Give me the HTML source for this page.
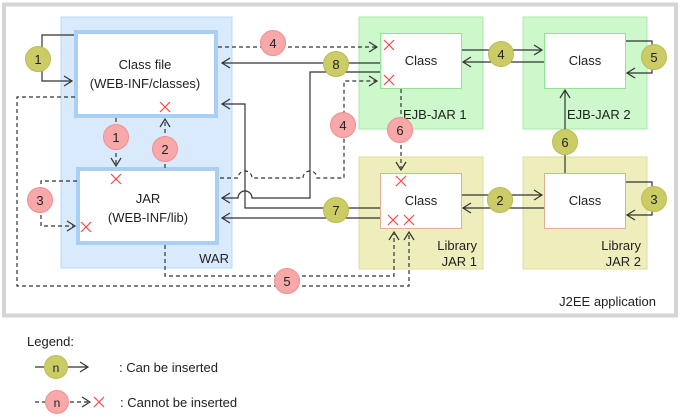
<!DOCTYPE html>
<html><head><meta charset="utf-8"><style>
html,body{margin:0;padding:0;background:#fff;}
svg{display:block;font-family:"Liberation Sans",Arial,sans-serif;}
</style></head><body>
<svg width="680" height="417" viewBox="0 0 680 417" xmlns="http://www.w3.org/2000/svg">
<defs>
<g id="xo"><path d="M-5,-5L5,5M5,-5L-5,5" stroke="#ff4444" stroke-width="1.2" fill="none"/></g>
</defs>
<rect x="4" y="4.5" width="672" height="311" fill="#fff" stroke="#d4d4d4" stroke-width="4"/>
<!-- WAR -->
<rect x="61" y="17" width="171" height="251" fill="#d9eafc" stroke="#b8d8f8" stroke-width="1"/>
<rect x="76" y="32" width="140" height="84" fill="#fff" stroke="#a9cff5" stroke-width="4"/>
<rect x="78" y="169" width="139" height="74" fill="#fff" stroke="#a9cff5" stroke-width="4"/>
<text x="145" y="69" font-size="13" text-anchor="middle" fill="#222">Class file</text>
<text x="145" y="88" font-size="13" text-anchor="middle" fill="#222">(WEB-INF/classes)</text>
<text x="148" y="203" font-size="13" text-anchor="middle" fill="#222">JAR</text>
<text x="148" y="222" font-size="13" text-anchor="middle" fill="#222">(WEB-INF/lib)</text>
<text x="229" y="263" font-size="13" text-anchor="end" fill="#222">WAR</text>
<!-- EJB / Lib regions -->
<rect x="359" y="17" width="124" height="112" fill="#ccf8cc" stroke="#a8eaa8"/>
<rect x="523" y="17" width="124" height="112" fill="#ccf8cc" stroke="#a8eaa8"/>
<rect x="359" y="157" width="124" height="112" fill="#eeeebc" stroke="#dede9c"/>
<rect x="523" y="157" width="124" height="112" fill="#eeeebc" stroke="#dede9c"/>
<rect x="380.5" y="33.5" width="81" height="55" fill="#fff" stroke="#8fe48f"/>
<rect x="544.5" y="33.5" width="81" height="55" fill="#fff" stroke="#8fe48f"/>
<rect x="380.5" y="173.5" width="81" height="55" fill="#fff" stroke="#e0b090"/>
<rect x="544.5" y="173.5" width="81" height="55" fill="#fff" stroke="#e0b090"/>
<g font-size="13" fill="#222" text-anchor="middle">
<text x="421" y="65">Class</text><text x="585" y="65">Class</text>
<text x="421" y="205">Class</text><text x="585" y="205">Class</text>
</g>
<g font-size="13" fill="#222">
<text x="403" y="119">EJB-JAR 1</text><text x="567" y="119">EJB-JAR 2</text>
<text x="477" y="250" text-anchor="end">Library</text><text x="477" y="266" text-anchor="end">JAR 1</text>
<text x="641" y="250" text-anchor="end">Library</text><text x="641" y="266" text-anchor="end">JAR 2</text>
<text x="656" y="306" text-anchor="end">J2EE application</text>
</g>
<!-- solid lines -->
<g fill="none" stroke="#333" stroke-width="1.2">
<path d="M74,35H42V81H72"/><path d="M64,76L72,81L64,86"/>
<path d="M380,63H222"/><path d="M230,58L222,63L230,68"/>
<path d="M380,72H310V198H252a7,7 0 0 0 -14,0H222"/><path d="M230,193L222,198L230,203"/>
<path d="M380,208H245V104H222"/><path d="M230,99L222,104L230,109"/>
<path d="M380,218H222"/><path d="M230,213L222,218L230,223"/>
<path d="M462,50H542"/><path d="M534,45L542,50L534,55"/>
<path d="M544,62H463"/><path d="M471,57L463,62L471,67"/>
<path d="M626,41H652V73H627"/><path d="M635,68L627,73L635,78"/>
<path d="M565,173V90"/><path d="M560,98L565,90L570,98"/>
<path d="M462,195H542"/><path d="M534,190L542,195L534,200"/>
<path d="M544,208H463"/><path d="M471,203L463,208L471,213"/>
<path d="M626,182H652V215H627"/><path d="M635,210L627,215L635,220"/>
</g>
<!-- dashed lines -->
<g fill="none" stroke="#333" stroke-width="1.2" stroke-dasharray="4,3">
<path d="M218,47H377"/>
<path d="M220,178H238a7,7 0 0 1 14,0H303a7,7 0 0 1 14,0H344V81H377"/>
<path d="M401,89V168"/>
<path d="M116,118V165"/>
<path d="M165,168V121"/>
<path d="M77,181H41V226H73"/>
<path d="M165,245V276H394V234"/>
<path d="M75,97H17V286H409V234"/>
</g>
<g fill="none" stroke="#333" stroke-width="1.2">
<path d="M369,42L377,47L369,52"/><path d="M369,76L377,81L369,86"/>
<path d="M396,162L401,170L406,162"/>
<path d="M111,158L116,166L121,158"/>
<path d="M160,127L165,119L170,127"/>
<path d="M67,221L75,226L67,231"/>
<path d="M389,240L394,232L399,240"/><path d="M404,240L409,232L414,240"/>
</g>
<!-- Xs -->
<use href="#xo" x="389" y="45"/><use href="#xo" x="389" y="80"/>
<use href="#xo" x="401" y="181"/><use href="#xo" x="393" y="220"/><use href="#xo" x="409" y="220"/>
<use href="#xo" x="165" y="107"/><use href="#xo" x="116" y="179"/><use href="#xo" x="86" y="227"/>
<!-- circles -->
<g stroke-width="1" font-size="13" text-anchor="middle" fill="#222">
<g fill="#cccc66" stroke="#bcbc55">
<circle cx="38" cy="59" r="12.5"/><circle cx="336" cy="64" r="12.5"/><circle cx="336" cy="210" r="12.5"/>
<circle cx="501" cy="54" r="12.5"/><circle cx="654" cy="57" r="12.5"/><circle cx="565" cy="142" r="12.5"/>
<circle cx="500" cy="200" r="12.5"/><circle cx="654" cy="199" r="12.5"/>
</g>
<g fill="#f8a8a8" stroke="#f09090">
<circle cx="273" cy="43" r="12.5"/><circle cx="116" cy="137" r="12.5"/><circle cx="165" cy="149" r="12.5"/>
<circle cx="40" cy="200" r="12.5"/><circle cx="343" cy="125" r="12.5"/><circle cx="400" cy="130" r="12.5"/>
<circle cx="287" cy="281" r="12.5"/>
</g>
<g stroke="none">
<text x="38" y="64">1</text><text x="336" y="69">8</text><text x="336" y="215">7</text>
<text x="501" y="59">4</text><text x="654" y="62">5</text><text x="565" y="147">6</text>
<text x="500" y="205">2</text><text x="654" y="204">3</text>
<text x="273" y="48">4</text><text x="116" y="142">1</text><text x="165" y="154">2</text>
<text x="40" y="205">3</text><text x="343" y="130">4</text><text x="400" y="135">6</text>
<text x="287" y="286">5</text>
</g>
</g>
<!-- legend -->
<text x="27" y="346" font-size="13" fill="#222">Legend:</text>
<path d="M35,367H88M80,362L88,367L80,372" fill="none" stroke="#333" stroke-width="1.2"/>
<circle cx="56" cy="367" r="11.5" fill="#cccc66" stroke="#bcbc55"/>
<text x="56" y="372" font-size="12" text-anchor="middle" fill="#222">n</text>
<text x="119" y="372" font-size="13" fill="#222">: Can be inserted</text>
<path d="M35,402H90" fill="none" stroke="#333" stroke-width="1.2" stroke-dasharray="4,3"/>
<path d="M82,397L90,402L82,407" fill="none" stroke="#333" stroke-width="1.2"/>
<circle cx="57" cy="402" r="11.5" fill="#f8a8a8" stroke="#f09090"/>
<text x="57" y="407" font-size="12" text-anchor="middle" fill="#222">n</text>
<use href="#xo" x="99" y="402"/>
<text x="120" y="407" font-size="13" fill="#222">: Cannot be inserted</text>
</svg>
</body></html>
